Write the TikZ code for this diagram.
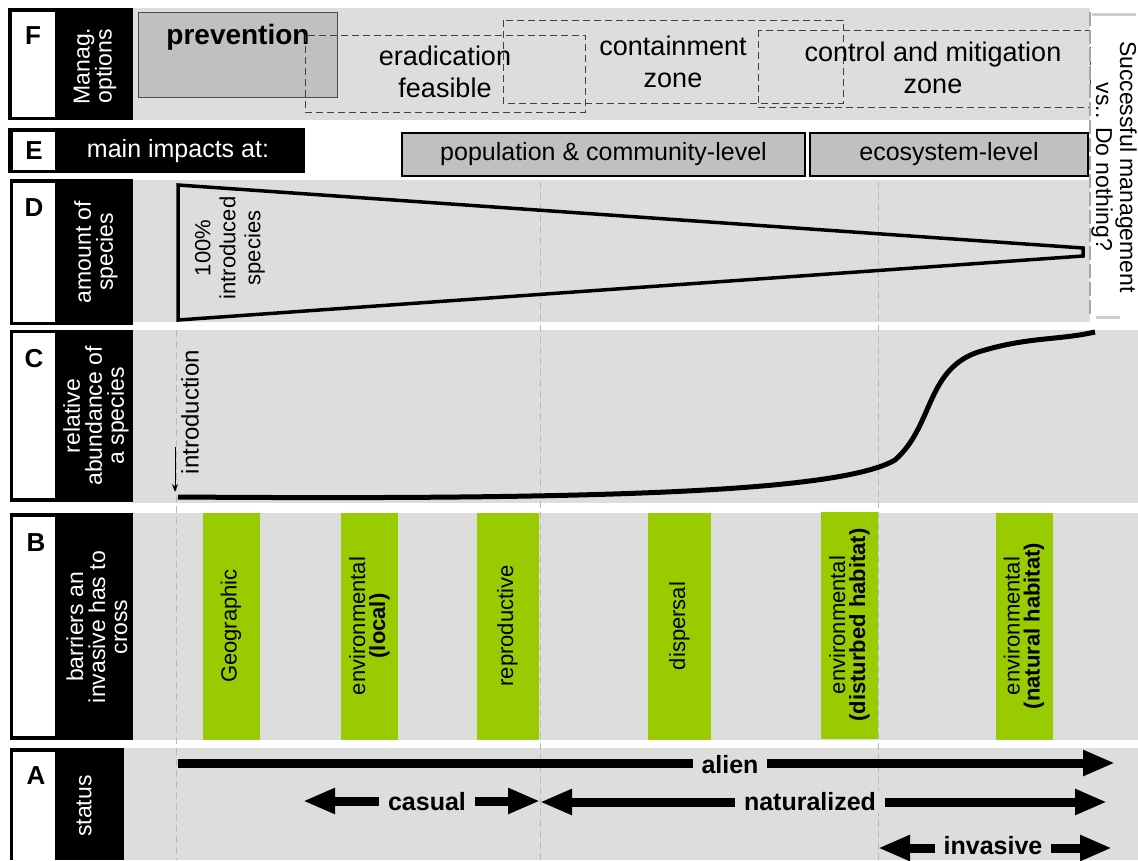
\documentclass[tikz,border=0pt]{standalone}
\usepackage{fontspec}
\setmainfont{Liberation Sans}
\usetikzlibrary{arrows.meta}
\definecolor{monGris}{RGB}{221,221,221}
\definecolor{monGrisFonce}{RGB}{192,192,192}
\definecolor{monGuide}{RGB}{185,185,185}
\definecolor{monVert}{RGB}{153,204,0}

\begin{document}
\begin{tikzpicture}[x=1pt,y=-1pt,
        lettre/.style={font=\fontsize{26}{26}\selectfont\bfseries},
        etiq/.style={rotate=90, text=white, align=center, font=\fontsize{23}{22}\selectfont},
        barriere/.style={rotate=90, fill=monVert, minimum width=227pt, minimum height=57pt, inner sep=0pt, align=center, font=\fontsize{22}{20}\selectfont},
        zone/.style={draw=black!75, dash pattern=on 7pt off 4pt, line width=0.8pt},
        niveau/.style={draw=black, line width=1.5pt, fill=monGrisFonce, minimum height=43pt, inner sep=0pt, font=\fontsize{25}{25}\selectfont},
        gestion/.style={align=center, font=\fontsize{27}{32}\selectfont},
        statut/.style={line width=9pt, -{Triangle[length=32pt,width=24pt]}},
        statut2/.style={line width=9pt, {Triangle[length=32pt,width=24pt]}-{Triangle[length=32pt,width=24pt]}},
        statlab/.style={fill=monGris, inner xsep=9pt, inner ysep=2pt, font=\fontsize{25}{25}\selectfont\bfseries},
        guide/.style={monGuide, dash pattern=on 7pt off 4pt, line width=0.8pt}]
        \useasboundingbox (0,0) rectangle (1138,860);

        % Panneaux gris
        \fill[monGris] (133,8) rectangle (1090,120);
        \fill[monGris] (133,180) rectangle (1090,322);
        \fill[monGris] (133,330) rectangle (1138,503);
        \fill[monGris] (133,513) rectangle (1138,740);
        \fill[monGris] (124,748) rectangle (1138,860);

        % Colonne des lettres
        \fill (8,8) rectangle (133,120);
        \fill[white] (12,12) rectangle (55,117);
        \node[lettre] (F) at (33,36) {F};
        \node[etiq] (manag) at (95,66) {Manag.\\options};

        \fill (8,128) rectangle (305,173);
        \fill[white] (13,132) rectangle (55,170);
        \node[lettre] (E) at (34,151) {E};
        \node[text=white, font=\fontsize{25}{25}\selectfont] (impacts) at (178,151) {main impacts at:};

        \fill (10,179) rectangle (133,325);
        \fill[white] (13,183) rectangle (55,322);
        \node[lettre] (D) at (34,208) {D};
        \node[etiq] (amount) at (96,252) {amount of\\species};

        \fill (10,330) rectangle (133,502);
        \fill[white] (13,333) rectangle (55,498);
        \node[lettre] (C) at (34,359) {C};
        \node[etiq] (abond) at (96,416) {relative\\abundance of\\a species};

        \fill (10,513) rectangle (133,740);
        \fill[white] (13,517) rectangle (55,736);
        \node[lettre] (B) at (36,543) {B};
        \node[etiq] (barr) at (97,627) {barriers an\\invasive has to\\cross};

        \fill (10,748) rectangle (124,860);
        \fill[white] (13,752) rectangle (55,860);
        \node[lettre] (A) at (36,776) {A};
        \node[etiq] (status) at (84,806) {status};

        % Lignes guides
        \draw[guide] (176,330) -- (176,860);
        \draw[guide] (540,182) -- (540,860);
        \draw[guide] (878,182) -- (878,860);

        % F : options de gestion
        \node[draw=black!70, fill=monGrisFonce, minimum width=199pt, minimum height=85pt, inner sep=0pt] (prevbox) at (237.5,54.5) {};
        \node[font=\fontsize{28}{28}\selectfont\bfseries] (prevention) at (238,37) {prevention};
        \draw[zone] (305,35) rectangle (585,112);
        \draw[zone] (503,20) rectangle (843,103);
        \draw[zone] (758,30) rectangle (1090,107);
        \node[gestion] (eradic) at (445,72) {eradication\\feasible};
        \node[gestion] (contain) at (673,62) {containment\\zone};
        \node[gestion] (control) at (933,68) {control and mitigation\\zone};

        % Gestion reussie ?
        \draw[gray!70, dash pattern=on 14pt off 4pt, line width=1.2pt] (1090,12) -- (1090,316);
        \draw[gray!40, line width=3pt] (1092,14) -- (1136,14);
        \draw[gray!40, line width=3pt] (1096,317) -- (1120,317);
        \node[rotate=-90, align=center, font=\fontsize{23}{24}\selectfont] (succes) at (1114,167) {Successful management\\vs.. Do nothing?};

        % E : niveaux d'impact
        \node[niveau, minimum width=403pt] (popu) at (603.5,154.5) {population \& community-level};
        \node[niveau, minimum width=278pt] (ecosys) at (949,154.5) {ecosystem-level};

        % D : nombre d'especes
        \draw[line width=3.5pt, line join=miter] (178,185) -- (1083,248) -- (1083,256) -- (178,320) -- cycle;
        \node[rotate=90, align=center, font=\fontsize{22}{25}\selectfont] (cent) at (230,248) {100\%\\introduced\\species};

        % C : abondance relative
        \coordinate (c0) at (178,497);
        \coordinate (c1) at (895,460);
        \coordinate (c2) at (985,350);
        \coordinate (c3) at (1095,332);
        \draw[line width=5pt] (c0) .. controls (600,500) and (840,492) .. (c1)
                .. controls (935,425) and (925,365) .. (c2)
                .. controls (1030,337) and (1060,340) .. (c3);
        \coordinate (introH) at (175,447);
        \coordinate (introB) at (175,492);
        \draw[-{Stealth[length=8pt,width=6pt]}, line width=1pt] (introH) -- (introB);
        \node[rotate=90, font=\fontsize{24}{24}\selectfont] (intro) at (190,412) {introduction};

        % B : barrieres
        \node[barriere] (geo) at (231,626) {Geographic};
        \node[barriere] (envloc) at (369.5,626) {environmental\\\textbf{(local)}};
        \node[barriere, minimum height=62pt] (repro) at (507.5,626) {reproductive};
        \node[barriere, minimum height=63pt] (disp) at (679.5,626) {dispersal};
        \node[barriere] (envdist) at (849.5,625) {environmental\\\textbf{(disturbed habitat)}};
        \node[barriere] (envnat) at (1024,626) {environmental\\\textbf{(natural habitat)}};

        % A : statut
        \coordinate (alienG) at (178,763);
        \coordinate (alienD) at (1115,763);
        \coordinate (casG) at (303,801);
        \coordinate (casD) at (540,801);
        \coordinate (natG) at (540,802);
        \coordinate (natD) at (1107,802);
        \coordinate (invG) at (878,848);
        \coordinate (invD) at (1112,848);
        \draw[statut] (alienG) -- (alienD);
        \draw[statut2] (casG) -- (casD);
        \draw[statut2] (natG) -- (natD);
        \draw[statut2] (invG) -- (invD);
        \node[statlab] (alien) at (730,765) {alien};
        \node[statlab] (casual) at (427,802) {casual};
        \node[statlab] (natur) at (810,802) {naturalized};
        \node[statlab] (invasive) at (993,846) {invasive};
    \end{tikzpicture}
\end{document}
